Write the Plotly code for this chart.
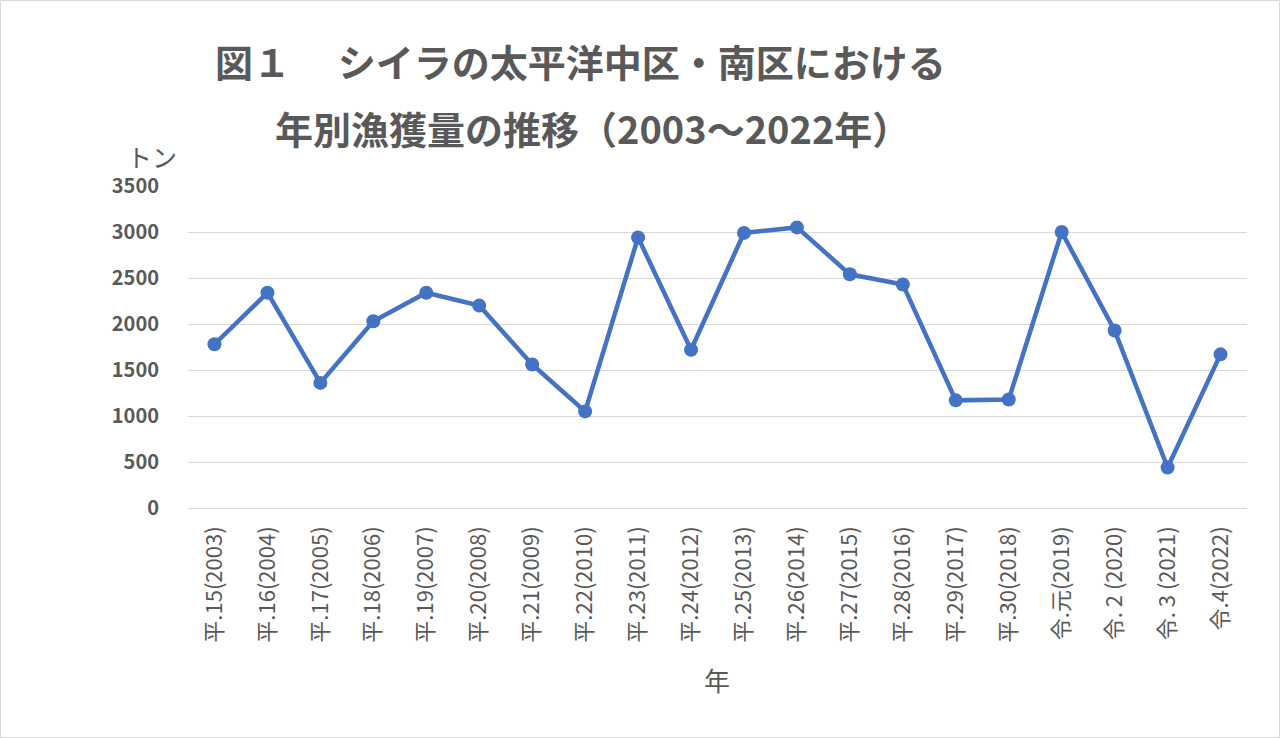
import plotly.graph_objects as go

categories = ["平.15(2003)", "平.16(2004)", "平.17(2005)", "平.18(2006)", "平.19(2007)",
              "平.20(2008)", "平.21(2009)", "平.22(2010)", "平.23(2011)", "平.24(2012)",
              "平.25(2013)", "平.26(2014)", "平.27(2015)", "平.28(2016)", "平.29(2017)",
              "平.30(2018)", "令.元(2019)", "令. 2 (2020)", "令. 3 (2021)", "令.4(2022)"]
catch_tons = [1780, 2340, 1360, 2030, 2340, 2200, 1560, 1050, 2940, 1720,
              2990, 3050, 2540, 2430, 1170, 1180, 3000, 1930, 440, 1670]
y_ticks = [0, 500, 1000, 1500, 2000, 2500, 3000, 3500]

FONT = "Noto Sans CJK JP"
GRAY = "#595959"

fig = go.Figure()
fig.add_trace(go.Scatter(
    x=categories, y=catch_tons, mode="lines+markers",
    line=dict(color="#4472C4", width=4.5),
    marker=dict(color="#4472C4", size=14),
    hoverinfo="x+y", showlegend=False,
))

L, R, T, B = 188, 33, 186, 230
W, H = 1280, 738
pw, ph = W - L - R, H - T - B

def px(x):
    return (x - L) / pw

def py(y):
    return (H - B - y) / ph

fig.update_layout(
    width=W, height=H,
    margin=dict(l=L, r=R, t=T, b=B, pad=0),
    paper_bgcolor="white", plot_bgcolor="white",
    font=dict(family=FONT, color=GRAY),
    xaxis=dict(
        type="category", tickangle=-90, range=[-0.5, len(categories) - 0.5],
        autorange=False, automargin=False,
        tickfont=dict(family=FONT, size=22, color=GRAY),
        showgrid=False, showline=False, zeroline=False,
        ticks="", ticklabelstandoff=13,
    ),
    yaxis=dict(
        range=[0, 3500], tickvals=y_ticks, automargin=False,
        tickfont=dict(family=FONT, size=20, color=GRAY, weight="bold"),
        showgrid=True, gridcolor="#D9D9D9", gridwidth=1.3,
        zeroline=True, zerolinecolor="#D9D9D9", zerolinewidth=1.3,
        showline=False, ticks="", ticklabelstandoff=28,
    ),
    annotations=[
        dict(text="図１　 シイラの太平洋中区・南区における", x=px(213), y=py(60),
             xref="paper", yref="paper", xanchor="left", yanchor="middle",
             showarrow=False, font=dict(family=FONT, size=38, color=GRAY, weight="bold")),
        dict(text="年別漁獲量の推移（2003～2022年）", x=px(273), y=py(127),
             xref="paper", yref="paper", xanchor="left", yanchor="middle",
             showarrow=False, font=dict(family=FONT, size=38, color=GRAY, weight="bold")),
        dict(text="トン", x=px(152), y=py(156),
             xref="paper", yref="paper", xanchor="center", yanchor="middle",
             showarrow=False, font=dict(family=FONT, size=25, color=GRAY)),
        dict(text="年", x=px(717), y=py(679),
             xref="paper", yref="paper", xanchor="center", yanchor="middle",
             showarrow=False, font=dict(family=FONT, size=26, color=GRAY)),
    ],
    shapes=[
        dict(type="rect", xref="paper", yref="paper",
             x0=px(0.5), x1=px(W - 0.5), y0=py(H - 0.5), y1=py(0.5),
             line=dict(color="#D9D9D9", width=1), fillcolor="rgba(0,0,0,0)", layer="below"),
    ],
)

fig.write_html("out.html")
